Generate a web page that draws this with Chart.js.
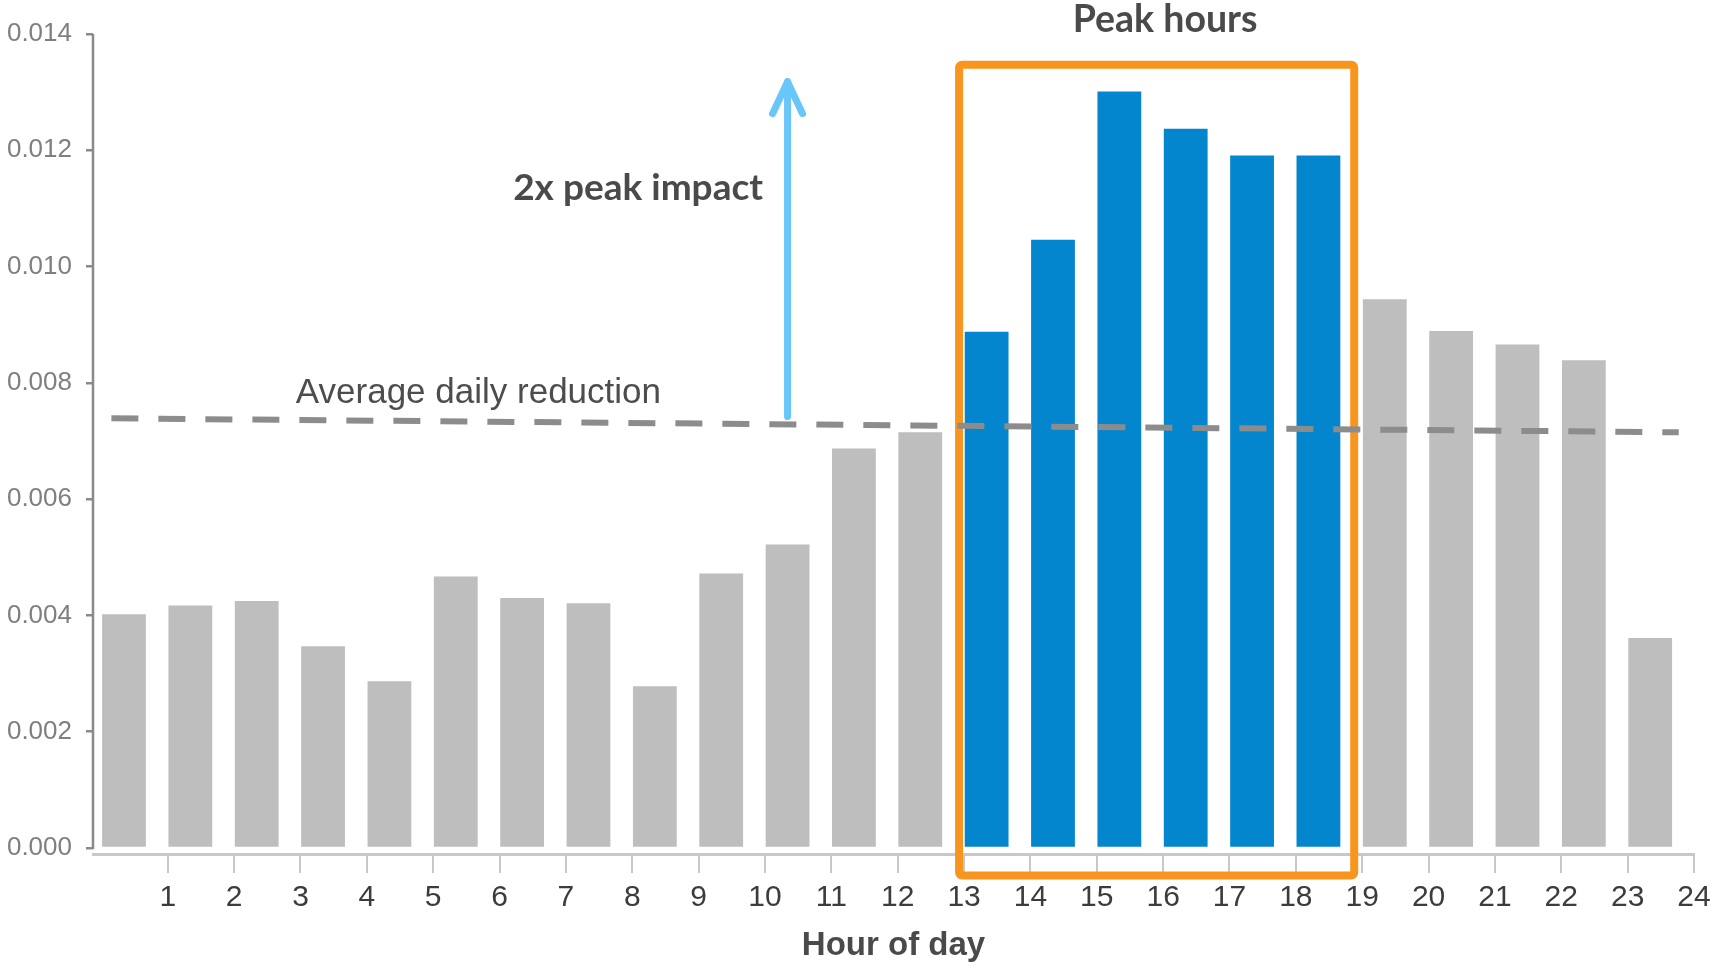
<!DOCTYPE html>
<html>
<head>
<meta charset="utf-8">
<title>Hourly reduction</title>
<script src="https://cdn.jsdelivr.net/npm/chart.js@4.4.1/dist/chart.umd.min.js"></script>
<style>
  html, body { margin: 0; padding: 0; background: #ffffff; overflow: hidden; }
  #chart { display: block; }
</style>
</head>
<body>
<canvas id="chart" width="1713" height="962"></canvas>
<script>
// Hour of day (each bar covers the hour ending at its label)
const hours = [1, 2, 3, 4, 5, 6, 7, 8, 9, 10, 11, 12, 13, 14, 15, 16, 17, 18, 19, 20, 21, 22, 23, 24];
// Reduction per hour
const reduction = [
  0.00402, 0.00417, 0.00425, 0.00347, 0.00287, 0.00467, 0.00430, 0.00421,
  0.00278, 0.00472, 0.00522, 0.00687, 0.00715, 0.00888, 0.01046, 0.01301,
  0.01237, 0.01191, 0.01191, 0.00944, 0.00889, 0.00866, 0.00839, 0.00361
];
// Bars highlighted as peak hours
const peakHours = [14, 15, 16, 17, 18, 19];
// Average daily reduction trend (start / end)
const trendHours = [0.15, 23.77];
const trendValues = [0.00739, 0.00715];
// Axis ticks
const xTickValues = [1, 2, 3, 4, 5, 6, 7, 8, 9, 10, 11, 12, 13, 14, 15, 16, 17, 18, 19, 20, 21, 22, 23, 24];
const yTickValues = [0, 0.002, 0.004, 0.006, 0.008, 0.010, 0.012, 0.014];

const GREY = '#bebebe';
const BLUE = '#0386ce';
const ORANGE = '#f8951f';
const ARROW_BLUE = '#68c6f8';
const BAR_SHIFT = 0.66;   // bars sit inside the hour slot, left of the label

const overlay = {
  id: 'overlay',
  beforeDatasetsDraw(chart) {
    const { ctx, chartArea, scales: { x, y } } = chart;
    ctx.save();
    // value axis line, ending at zero
    ctx.strokeStyle = '#8a8a8a';
    ctx.lineWidth = 2.5;
    ctx.beginPath();
    ctx.moveTo(chartArea.left, y.getPixelForValue(0.014));
    ctx.lineTo(chartArea.left, y.getPixelForValue(0) + 1);
    ctx.stroke();

    // box around the peak hours
    const left = x.getPixelForValue(peakHours[0] - 1) - 5;
    const right = x.getPixelForValue(peakHours[peakHours.length - 1]) - 8;
    const top = y.getPixelForValue(0.01347);
    const bottom = chartArea.bottom + 21.5;
    ctx.strokeStyle = ORANGE;
    ctx.lineWidth = 8;
    ctx.lineJoin = 'round';
    ctx.beginPath();
    ctx.roundRect(left, top, right - left, bottom - top, 3);
    ctx.stroke();
    ctx.restore();
  },
  afterDraw(chart) {
    const { ctx, scales: { x, y } } = chart;
    ctx.save();

    // arrow showing the peak impact
    const ax = x.getPixelForValue(10.34);
    const ay0 = y.getPixelForValue(0.00742);
    const ay1 = y.getPixelForValue(0.01318);
    ctx.strokeStyle = ARROW_BLUE;
    ctx.lineWidth = 7;
    ctx.lineCap = 'round';
    ctx.lineJoin = 'round';
    ctx.beginPath();
    ctx.moveTo(ax, ay0);
    ctx.lineTo(ax, ay1);
    ctx.stroke();
    ctx.beginPath();
    ctx.moveTo(ax - 15, ay1 + 32);
    ctx.lineTo(ax, ay1);
    ctx.lineTo(ax + 15, ay1 + 32);
    ctx.stroke();

    // labels
    ctx.fillStyle = '#4d4d4d';
    ctx.textBaseline = 'alphabetic';
    ctx.font = '35px "Liberation Sans", Arial, sans-serif';
    ctx.textAlign = 'left';
    ctx.fillText('Average daily reduction', x.getPixelForValue(2.93), y.getPixelForValue(0.00765));

    ctx.fillStyle = '#4a4a4a';
    ctx.font = 'bold 37px Lato, "Liberation Sans", sans-serif';
    ctx.textAlign = 'right';
    ctx.fillText('2x peak impact', x.getPixelForValue(9.97), y.getPixelForValue(0.01115));

    ctx.font = 'bold 37.5px Lato, "Liberation Sans", sans-serif';
    ctx.textAlign = 'center';
    ctx.fillText('Peak hours', x.getPixelForValue(16.03), y.getPixelForValue(0.01404));
    ctx.restore();
  }
};

new Chart(document.getElementById('chart'), {
  type: 'bar',
  data: {
    datasets: [
      {
        type: 'line',
        data: trendHours.map((h, i) => ({ x: h, y: trendValues[i] })),
        borderColor: '#8c8c8c',
        borderWidth: 6,
        borderDash: [27, 20],
        borderCapStyle: 'butt',
        pointRadius: 0,
        fill: false,
        order: 0
      },
      {
        type: 'bar',
        data: hours.map((h, i) => ({ x: h - BAR_SHIFT, y: reduction[i] })),
        backgroundColor: hours.map(h => peakHours.includes(h) ? BLUE : GREY),
        borderWidth: 0,
        barPercentage: 0.66,
        categoryPercentage: 1,
        order: 1
      }
    ]
  },
  options: {
    responsive: false,
    animation: false,
    devicePixelRatio: 1,
    layout: { padding: { left: 0, right: 19, top: 34, bottom: 0 } },
    plugins: {
      legend: { display: false },
      tooltip: { enabled: false }
    },
    scales: {
      x: {
        type: 'linear',
        offset: false,
        min: -0.127,
        max: 24,
        afterBuildTicks: s => { s.ticks = xTickValues.map(v => ({ value: v })); },
        afterFit: s => { s.height = 108; s.paddingRight = 0; s.paddingLeft = 0; },
        ticks: {
          autoSkip: false,
          maxRotation: 0,
          padding: 7,
          color: '#3c3c3c',
          font: { family: '"Liberation Sans", Arial, sans-serif', size: 30 },
          callback: v => String(v)
        },
        grid: { offset: false, drawOnChartArea: false, drawTicks: true, tickLength: 19, color: '#c8c8c8', lineWidth: 2 },
        border: { color: '#c8c8c8', width: 3 },
        title: {
          display: true,
          text: 'Hour of day',
          color: '#4a4a4a',
          padding: { top: 0, bottom: 0 },
          font: { family: '"Liberation Sans", Arial, sans-serif', size: 33, weight: 'bold', lineHeight: 1 }
        }
      },
      y: {
        min: -0.000103,
        max: 0.014,
        afterBuildTicks: s => { s.ticks = yTickValues.map(v => ({ value: v })); },
        afterFit: s => { s.width = 93; },
        ticks: {
          padding: 14,
          color: '#7f7f7f',
          font: { family: '"Liberation Sans", Arial, sans-serif', size: 26 },
          callback: v => Number(v).toFixed(3)
        },
        grid: { drawOnChartArea: false, drawTicks: true, tickLength: 7, color: '#8a8a8a', lineWidth: 2.5 },
        border: { display: false }
      }
    }
  },
  plugins: [overlay]
});
</script>
</body>
</html>
